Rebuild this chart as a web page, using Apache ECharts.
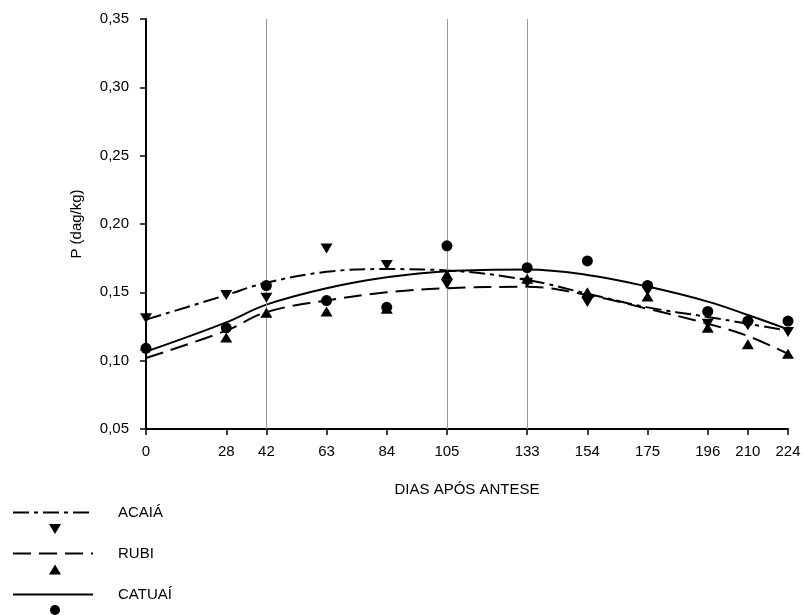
<!DOCTYPE html>
<html>
<head>
<meta charset="utf-8">
<script src="https://cdn.jsdelivr.net/npm/echarts@6/dist/echarts.min.js"></script>
<style>html,body{margin:0;padding:0;background:#fff;}#c{width:804px;height:615px;}</style>
</head>
<body>
<div id="c"></div>
<script>
// ---- data ----
const dayTicks = [0, 28, 42, 63, 84, 105, 133, 154, 175, 196, 210, 224];
const refDays = [42, 105, 133];
const seriesNames = ['ACAIÁ', 'RUBI', 'CATUAÍ'];
// observed points
const acaiaPts  = [0.131, 0.148, 0.146, 0.182, 0.170, 0.156, 0.157, 0.143, 0.151, 0.127, 0.126, 0.121];
const rubiPts   = [0.111, 0.117, 0.135, 0.136, 0.138, 0.163, 0.160, 0.150, 0.147, 0.124, 0.112, 0.105];
const catuaiPts = [0.109, 0.124, 0.155, 0.144, 0.139, 0.184, 0.168, 0.173, 0.155, 0.136, 0.129, 0.129];
// fitted curves read at tick days
const acaiaFit  = [0.130, 0.148, 0.157, 0.165, 0.167, 0.166, 0.159, 0.149, 0.139, 0.132, 0.127, 0.122];
const rubiFit   = [0.102, 0.122, 0.1355, 0.144, 0.150, 0.153, 0.154, 0.148, 0.138, 0.127, 0.118, 0.105];
const catuaiFit = [0.1066, 0.128, 0.141, 0.153, 0.161, 0.1655, 0.1667, 0.1627, 0.1542, 0.1432, 0.1334, 0.1229];
const yTitle = 'P (dag/kg)';
const xTitle = 'DIAS APÓS ANTESE';

const pair = arr => dayTicks.map((d, i) => [d, arr[i]]);
const FONT = 'Liberation Sans, Arial, sans-serif';

const chart = echarts.init(document.getElementById('c'), null, {renderer: 'canvas'});
const dashDot = [16, 5, 4, 5];
const dashed = [18, 8];
const downTri = 'path://M0,0 L12,0 L6,10 Z';
const upTri = 'path://M6,0 L12,10 L0,10 Z';

const option = {
  animation: false,
  backgroundColor: '#fff',
  textStyle: {fontFamily: FONT, color: '#000'},
  grid: {left: 146, right: 16, top: 19, bottom: 186, containLabel: false},
  xAxis: {
    type: 'value', min: 0, max: 224,
    name: xTitle, nameLocation: 'middle', nameGap: 53,
    nameTextStyle: {fontSize: 15, color: '#000', fontFamily: FONT},
    axisLine: {show: true, lineStyle: {color: '#000', width: 2}},
    axisTick: {show: true, length: 6, lineStyle: {color: '#000', width: 1.5}, customValues: dayTicks},
    axisLabel: {color: '#000', fontSize: 15, margin: 15, customValues: dayTicks, fontFamily: FONT},
    splitLine: {show: false}
  },
  yAxis: {
    type: 'value', min: 0.05, max: 0.35, interval: 0.05,
    name: yTitle, nameLocation: 'middle', nameGap: 62, nameRotate: 90,
    nameTextStyle: {fontSize: 15, color: '#000', fontFamily: FONT},
    axisLine: {show: true, lineStyle: {color: '#000', width: 2}},
    axisTick: {show: true, length: 6, lineStyle: {color: '#000', width: 1.5}},
    axisLabel: {color: '#000', fontSize: 15, margin: 17, fontFamily: FONT,
      formatter: v => v.toFixed(2).replace('.', ',')},
    splitLine: {show: false}
  },
  legend: [
    {
      orient: 'vertical', left: 12, top: 505, padding: 0,
      itemWidth: 80, itemHeight: 14, itemGap: 26,
      data: seriesNames,
      itemStyle: {color: 'rgba(0,0,0,0)', borderWidth: 0, opacity: 0},
      textStyle: {fontSize: 15, color: '#000', fontFamily: FONT, padding: [0, 0, 0, 20]}
    },
    {
      orient: 'vertical', left: 49, top: 524, padding: 0,
      itemWidth: 12, itemHeight: 10, itemGap: 30.5,
      data: [
        {name: seriesNames[0] + ' pts', icon: downTri},
        {name: seriesNames[1] + ' pts', icon: upTri},
        {name: seriesNames[2] + ' pts', icon: 'circle'}
      ],
      formatter: () => '',
      textStyle: {fontSize: 10, lineHeight: 10}
    }
  ],
  series: [
    {
      type: 'line', name: 'ref', data: [], silent: true, z: 1,
      markLine: {
        symbol: 'none', silent: true, label: {show: false},
        lineStyle: {color: '#999', type: 'solid', width: 1},
        data: refDays.map(d => ({xAxis: d}))
      }
    },
    {type: 'line', name: seriesNames[0], data: pair(acaiaFit), smooth: 0.4, symbol: 'none', z: 3,
      lineStyle: {color: '#000', width: 2, type: dashDot}, itemStyle: {color: '#000'}},
    {type: 'line', name: seriesNames[1], data: pair(rubiFit), smooth: 0.4, symbol: 'none', z: 3,
      lineStyle: {color: '#000', width: 2, type: dashed}, itemStyle: {color: '#000'}},
    {type: 'line', name: seriesNames[2], data: pair(catuaiFit), smooth: 0.4, symbol: 'none', z: 3,
      lineStyle: {color: '#000', width: 2, type: 'solid'}, itemStyle: {color: '#000'}},
    {type: 'scatter', name: seriesNames[0] + ' pts', data: pair(acaiaPts), symbol: 'triangle', symbolRotate: 180,
      symbolSize: [12, 10], itemStyle: {color: '#000', opacity: 1}, z: 5},
    {type: 'scatter', name: seriesNames[1] + ' pts', data: pair(rubiPts), symbol: 'triangle',
      symbolSize: [12, 10], itemStyle: {color: '#000', opacity: 1}, z: 5},
    {type: 'scatter', name: seriesNames[2] + ' pts', data: pair(catuaiPts), symbol: 'circle',
      symbolSize: 11, itemStyle: {color: '#000', opacity: 1}, z: 5}
  ]
};
chart.setOption(option);
</script>
</body>
</html>
